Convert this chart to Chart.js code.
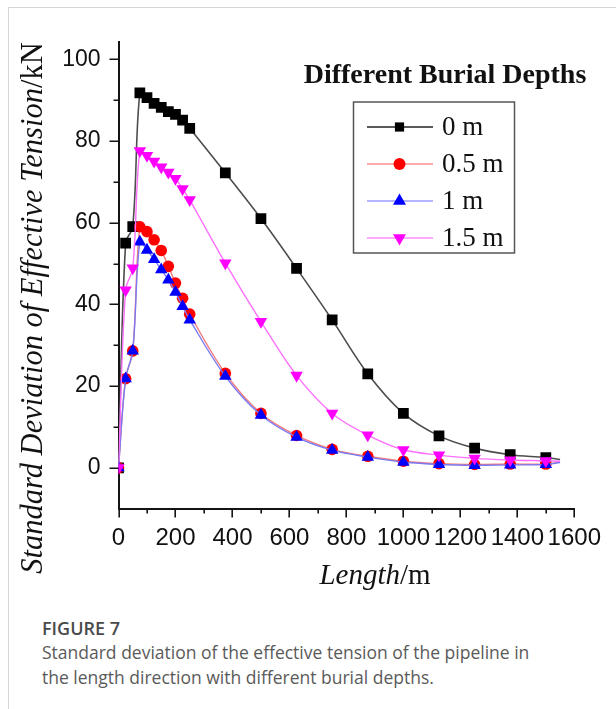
<!DOCTYPE html>
<html><head><meta charset="utf-8">
<script src="https://cdn.jsdelivr.net/npm/chart.js@4.4.1/dist/chart.umd.min.js"></script>
<style>
html,body{margin:0;padding:0;background:#fff;}
body{width:616px;height:709px;position:relative;overflow:hidden;}
#frameTop{position:absolute;left:8px;top:7px;right:0;height:0;border-top:1px solid #d6d6d6;}
#frameLeft{position:absolute;left:8px;top:7px;bottom:0;width:0;border-left:1px solid #d6d6d6;}
#wrap{position:absolute;left:0;top:0;width:616px;height:600px;}
#figno{position:absolute;left:42px;top:616px;font-family:"Open Sans",sans-serif;font-size:18px;font-weight:600;color:#4a4a4a;line-height:24px;}
#captxt{position:absolute;left:42px;top:640px;font-family:"Open Sans",sans-serif;font-size:17.5px;color:#5a5a5a;line-height:25px;}
</style></head><body>
<div id="frameTop"></div><div id="frameLeft"></div>
<div id="wrap"><canvas id="c" width="616" height="600"></canvas></div>
<div id="figno">FIGURE 7</div>
<div id="captxt">Standard deviation of the effective tension of the pipeline in<br>the length direction with different burial depths.</div>
<script>
// ---- data ----
const lengths = [0,25,50,75,100,125,150,175,200,225,250,375,500,625,750,875,1000,1125,1250,1375,1500,1550];
const depth0  = [0,55,59,91.8,90.6,89.2,88.2,87.2,86.5,85.1,83.1,72.2,61,48.8,36.2,23,13.3,7.8,4.8,3.2,2.5,2.0];
const depth05 = [0,21.8,28.6,59,57.8,55.8,53.2,49.3,45.2,41.5,37.6,23.1,13.3,7.9,4.5,2.8,1.6,1.0,0.8,0.9,0.9,1.4];
const depth1  = [0,21.8,28.6,55.3,53.3,51,48.5,46,43,39.5,36.2,22.4,12.9,7.5,4.3,2.6,1.4,0.8,0.6,0.7,0.8,1.3];
const depth15 = [0,43.5,48.9,77.6,76.4,75,73.6,72.3,70.8,68.3,65.6,50.1,35.8,22.6,13.3,8,4.4,3.1,2.3,1.9,1.7,1.6];
const seriesLabels = ['0 m','0.5 m','1 m','1.5 m'];
const xTickLabels = [0,200,400,600,800,1000,1200,1400,1600];
const yTickLabels = [0,20,40,60,80,100];
const legendTitle = 'Different Burial Depths';
const xTitle = ['Length','/m'];
const yTitle = ['Standard Deviation of Effective Tension','/kN'];

const lastIdx = lengths.length - 1;
function pts(arr){ return lengths.map((x,i)=>({x:x,y:arr[i]})); }
function rad(r){ return ctx => ctx.dataIndex === lastIdx ? 0 : r; }

const styles = [
  {line:'#4d4d4d', fill:'#000000', style:'rect', r:7.6, lw:1.6, legLine:'#222', legR:6.5},
  {line:'#f47a7a', fill:'#ff0000', style:'circle', r:5.8, lw:1.4, legLine:'#ff5a5a', legR:6},
  {line:'#7a7af4', fill:'#0000ff', style:'triangle', r:7.2, lw:1.4, legLine:'#6a6aff', legR:7.5},
  {line:'#ff70ff', fill:'#ff00ff', style:'triangle', rot:180, r:7.2, lw:1.4, legLine:'#ff55ff', legR:7.5}
];
const seriesData = [depth0, depth05, depth1, depth15];

const datasets = seriesData.map((d,i)=>({
  label: seriesLabels[i],
  data: pts(d),
  borderColor: styles[i].line,
  borderWidth: styles[i].lw,
  backgroundColor: styles[i].fill,
  pointBackgroundColor: styles[i].fill,
  pointBorderColor: styles[i].fill,
  pointBorderWidth: 0,
  pointStyle: styles[i].style,
  pointRotation: styles[i].rot || 0,
  pointRadius: rad(styles[i].r),
  tension: 0.35,
  order: 4 - i
}));

const AX = '#141414';
const tickPlugin = {
  id:'customTicks',
  afterDraw(chart){
    const c = chart.ctx, xs = chart.scales.x, ys = chart.scales.y, a = chart.chartArea;
    c.save();
    c.strokeStyle = AX; c.lineWidth = 1.6;
    c.beginPath();
    for (let v=0; v<=1600; v+=100){
      const px = Math.round(xs.getPixelForValue(v)) + 0.2;
      const len = (v % 200 === 0) ? 9 : 5;
      c.moveTo(px, a.bottom); c.lineTo(px, a.bottom + len);
    }
    for (let v=0; v<=100; v+=10){
      const py = Math.round(ys.getPixelForValue(v)) + 0.2;
      const len = (v % 20 === 0) ? 9 : 5;
      c.moveTo(a.left, py); c.lineTo(a.left - len, py);
    }
    c.stroke();

    // axis titles
    c.fillStyle = '#111';
    c.textBaseline = 'alphabetic';
    // x title
    c.font = 'italic 29px "Liberation Serif"';
    const w1 = c.measureText(xTitle[0]).width;
    c.font = '29px "Liberation Serif"';
    const w2 = c.measureText(xTitle[1]).width;
    let sx = 375 - (w1+w2)/2;
    c.font = 'italic 29px "Liberation Serif"';
    c.fillText(xTitle[0], sx, 584);
    c.font = '29px "Liberation Serif"';
    c.fillText(xTitle[1], sx + w1, 584);
    // y title
    c.save();
    c.translate(42, 308);
    c.rotate(-Math.PI/2);
    c.font = 'italic 30.5px "Liberation Serif"';
    const v1 = c.measureText(yTitle[0]).width;
    c.font = '30.5px "Liberation Serif"';
    const v2 = c.measureText(yTitle[1]).width;
    const s0 = -(v1+v2)/2;
    c.font = 'italic 30.5px "Liberation Serif"';
    c.fillText(yTitle[0], s0, 0);
    c.font = '30.5px "Liberation Serif"';
    c.fillText(yTitle[1], s0 + v1, 0);
    c.restore();

    // legend title
    c.font = 'bold 28px "Liberation Serif"';
    c.textAlign = 'center';
    c.textBaseline = 'middle';
    c.fillText(legendTitle, 445, 76);

    // legend box
    c.strokeStyle = '#555'; c.lineWidth = 1.5;
    c.strokeRect(353.5, 102, 161, 151);
    c.textAlign = 'left';
    c.font = '27px "Liberation Serif"';
    chart.data.datasets.forEach((ds,i)=>{
      const y = 127 + i*37;
      c.strokeStyle = styles[i].legLine; c.lineWidth = i===0 ? 1.4 : 1.1;
      c.beginPath(); c.moveTo(367, y); c.lineTo(433, y); c.stroke();
      c.fillStyle = styles[i].fill;
      Chart.helpers.drawPoint(c, {pointStyle: styles[i].style, rotation: styles[i].rot || 0, radius: styles[i].legR, borderWidth:0}, 399.5, y);
      c.fillStyle = '#111';
      c.fillText(ds.label, 442, y + 1);
    });
    c.restore();
  }
};

const yFont = {family:'"Liberation Sans", Arial, sans-serif', size:23};
const xFont = {family:'"Liberation Sans", Arial, sans-serif', size:24};
new Chart(document.getElementById('c'), {
  type:'line',
  data:{datasets: datasets},
  options:{
    responsive:false, animation:false,
    layout:{padding:{left:0, right:31, top:41.7, bottom:0}},
    plugins:{legend:{display:false}, tooltip:{enabled:false}},
    elements:{point:{hoverRadius:0}},
    scales:{
      x:{type:'linear', min:0, max:1600,
         afterBuildTicks(s){ s.ticks = xTickLabels.map(v=>({value:v})); },
         ticks:{font:xFont, color:'#111', padding:15, maxRotation:0, autoSkip:false, callback:v=>String(v)},
         grid:{drawOnChartArea:false, drawTicks:false},
         border:{color:AX, width:2},
         afterFit(s){ s.height = 600 - 508.6; }},
      y:{type:'linear', min:-10, max:104.3,
         afterBuildTicks(s){ s.ticks = yTickLabels.map(v=>({value:v})); },
         ticks:{font:yFont, color:'#111', padding:18, callback:v=>String(v)},
         grid:{drawOnChartArea:false, drawTicks:false},
         border:{color:AX, width:2},
         afterFit(s){ s.width = 118.5; }}
    }
  },
  plugins:[tickPlugin]
});
</script>
</body></html>
